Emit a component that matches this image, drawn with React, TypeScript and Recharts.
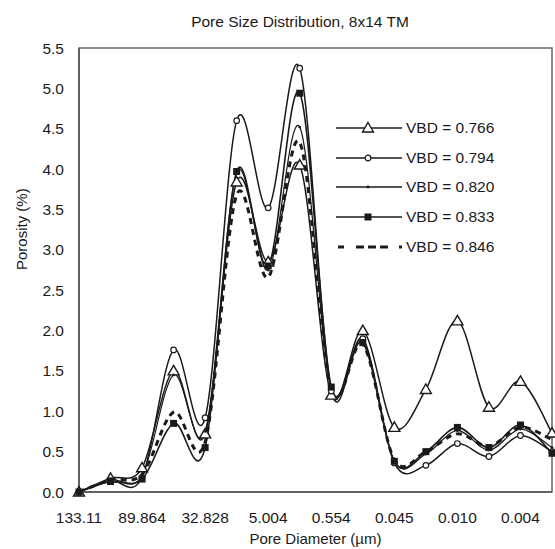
import { LineChart, Line, XAxis, YAxis, ReferenceArea } from 'recharts';

// diameters shown on the axis (every other category is labelled)
const tickLabels = ['133.11', '89.864', '32.828', '5.004', '0.554', '0.045', '0.010', '0.004'];

const vbd0766 = [0, 0.17, 0.3, 1.5, 0.72, 3.84, 2.85, 4.05, 1.2, 2.0, 0.8, 1.27, 2.12, 1.05, 1.37, 0.73];
const vbd0794 = [0, 0.14, 0.18, 1.76, 0.92, 4.6, 3.52, 5.25, 1.25, 1.9, 0.36, 0.33, 0.6, 0.44, 0.7, 0.5];
const vbd0820 = [0, 0.15, 0.2, 1.45, 0.75, 3.95, 2.75, 4.52, 1.28, 1.88, 0.38, 0.47, 0.76, 0.52, 0.78, 0.55];
const vbd0833 = [0, 0.13, 0.16, 0.85, 0.55, 3.97, 2.8, 4.94, 1.3, 1.85, 0.38, 0.5, 0.8, 0.55, 0.83, 0.48];
const vbd0846 = [0, 0.15, 0.22, 0.99, 0.62, 3.68, 2.66, 4.33, 1.25, 1.83, 0.4, 0.5, 0.72, 0.57, 0.8, 0.65];

const yTicks = [0, 0.5, 1, 1.5, 2, 2.5, 3, 3.5, 4, 4.5, 5, 5.5];

const data = vbd0766.map((_, i) => ({
  cat: i % 2 === 0 ? tickLabels[i / 2] : '',
  a: vbd0766[i],
  b: vbd0794[i],
  c: vbd0820[i],
  d: vbd0833[i],
  e: vbd0846[i],
}));

const FONT = '"Liberation Sans", Arial, sans-serif';
const INK = '#1a1a1a';

// Excel-like smoothed line (Catmull-Rom through the points)
function smooth(context: any) {
  let pts: number[][] = [];
  return {
    areaStart() {},
    areaEnd() {},
    lineStart() {
      pts = [];
    },
    point(x: number, y: number) {
      pts.push([+x, +y]);
    },
    lineEnd() {
      if (!pts.length) return;
      context.moveTo(pts[0][0], pts[0][1]);
      const t = 1 / 6;
      for (let i = 0; i < pts.length - 1; i++) {
        const p0 = pts[Math.max(i - 1, 0)];
        const p1 = pts[i];
        const p2 = pts[i + 1];
        const p3 = pts[Math.min(i + 2, pts.length - 1)];
        context.bezierCurveTo(
          p1[0] + (p2[0] - p0[0]) * t,
          p1[1] + (p2[1] - p0[1]) * t,
          p2[0] - (p3[0] - p1[0]) * t,
          p2[1] - (p3[1] - p1[1]) * t,
          p2[0],
          p2[1]
        );
      }
    },
  };
}

const Tri = ({ cx, cy }: any) => (
  <path d={`M${cx},${cy - 5.5}L${cx + 5.5},${cy + 4}L${cx - 5.5},${cy + 4}Z`} fill="#fff" stroke={INK} strokeWidth={1.4} />
);
const Circ = ({ cx, cy }: any) => <circle cx={cx} cy={cy} r={2.8} fill="#fff" stroke={INK} strokeWidth={1.2} />;
const Dot = ({ cx, cy }: any) => <circle cx={cx} cy={cy} r={1.4} fill={INK} />;
const Sq = ({ cx, cy }: any) => <rect x={cx - 3.5} y={cy - 3.5} width={7} height={7} fill={INK} />;

const legendRows = [
  { label: 'VBD = 0.766', marker: 'tri' },
  { label: 'VBD = 0.794', marker: 'circ' },
  { label: 'VBD = 0.820', marker: 'dot' },
  { label: 'VBD = 0.833', marker: 'sq' },
  { label: 'VBD = 0.846', marker: 'dash' },
];

function LegendBox() {
  return (
    <div style={{ position: 'absolute', left: 336, top: 113, fontFamily: FONT, fontSize: 15.5, color: INK }}>
      {legendRows.map((r) => (
        <div key={r.label} style={{ display: 'flex', alignItems: 'center', height: 29.7 }}>
          <svg width={66} height={20}>
            {r.marker === 'dash' ? (
              <g stroke={INK} strokeWidth={3}>
                <line x1={2} y1={10} x2={8} y2={10} />
                <line x1={20} y1={10} x2={28} y2={10} />
                <line x1={32} y1={10} x2={40} y2={10} />
                <line x1={44} y1={10} x2={52} y2={10} />
                <line x1={63} y1={10} x2={66} y2={10} />
              </g>
            ) : (
              <line x1={0} y1={10} x2={66} y2={10} stroke={INK} strokeWidth={1.6} />
            )}
            {r.marker === 'tri' && <Tri cx={32} cy={10} />}
            {r.marker === 'circ' && <Circ cx={32} cy={10} />}
            {r.marker === 'dot' && <Dot cx={32} cy={10} />}
            {r.marker === 'sq' && <Sq cx={32} cy={10} />}
          </svg>
          <span style={{ marginLeft: 4, whiteSpace: 'nowrap' }}>{r.label}</span>
        </div>
      ))}
    </div>
  );
}

export default function App() {
  return (
    <div style={{ position: 'absolute', left: 0, top: 0, width: 555, height: 549, background: '#fff' }}>
      <div
        style={{
          position: 'absolute',
          top: 13,
          left: 0,
          width: 600,
          textAlign: 'center',
          fontFamily: FONT,
          fontSize: 15.5,
          color: INK,
        }}
      >
        Pore Size Distribution, 8x14 TM
      </div>
      <LineChart width={555} height={549} data={data} margin={{ top: 48, right: 3, bottom: 5, left: 34 }}>
        <ReferenceArea y1={0} y2={5.5} fill="none" stroke="#666" strokeWidth={1.5} ifOverflow="visible" />
        <XAxis
          dataKey="cat"
          interval={1}
          height={52}
          tickLine={false}
          tickSize={6}
          tickMargin={14}
          axisLine={{ stroke: '#555', strokeWidth: 1.5 }}
          tick={{ fontFamily: FONT, fontSize: 15.5, fill: INK }}
          label={{ value: 'Pore Diameter (µm)', position: 'insideBottom', offset: 0, fontFamily: FONT, fontSize: 15, fill: INK }}
        />
        <YAxis
          width={45}
          domain={[0, 5.5]}
          ticks={yTicks}
          tickFormatter={(v: number) => v.toFixed(1)}
          tickLine={false}
          tickSize={6}
          tickMargin={9}
          axisLine={{ stroke: '#555', strokeWidth: 1.5 }}
          tick={{ fontFamily: FONT, fontSize: 15.5, fill: INK }}
          label={{ value: 'Porosity (%)', angle: -90, position: 'insideLeft', offset: -12, fontFamily: FONT, fontSize: 15, fill: INK }}
        />
        <Line type={smooth as any} dataKey="a" stroke={INK} strokeWidth={1.5} dot={<Tri />} isAnimationActive={false} />
        <Line type={smooth as any} dataKey="b" stroke={INK} strokeWidth={1.5} dot={<Circ />} isAnimationActive={false} />
        <Line type={smooth as any} dataKey="c" stroke={INK} strokeWidth={1.2} dot={<Dot />} isAnimationActive={false} />
        <Line type={smooth as any} dataKey="d" stroke={INK} strokeWidth={1.6} dot={<Sq />} isAnimationActive={false} />
        <Line
          type={smooth as any}
          dataKey="e"
          stroke={INK}
          strokeWidth={3}
          strokeDasharray="6 5"
          dot={false}
          isAnimationActive={false}
        />
      </LineChart>
      <LegendBox />
    </div>
  );
}
